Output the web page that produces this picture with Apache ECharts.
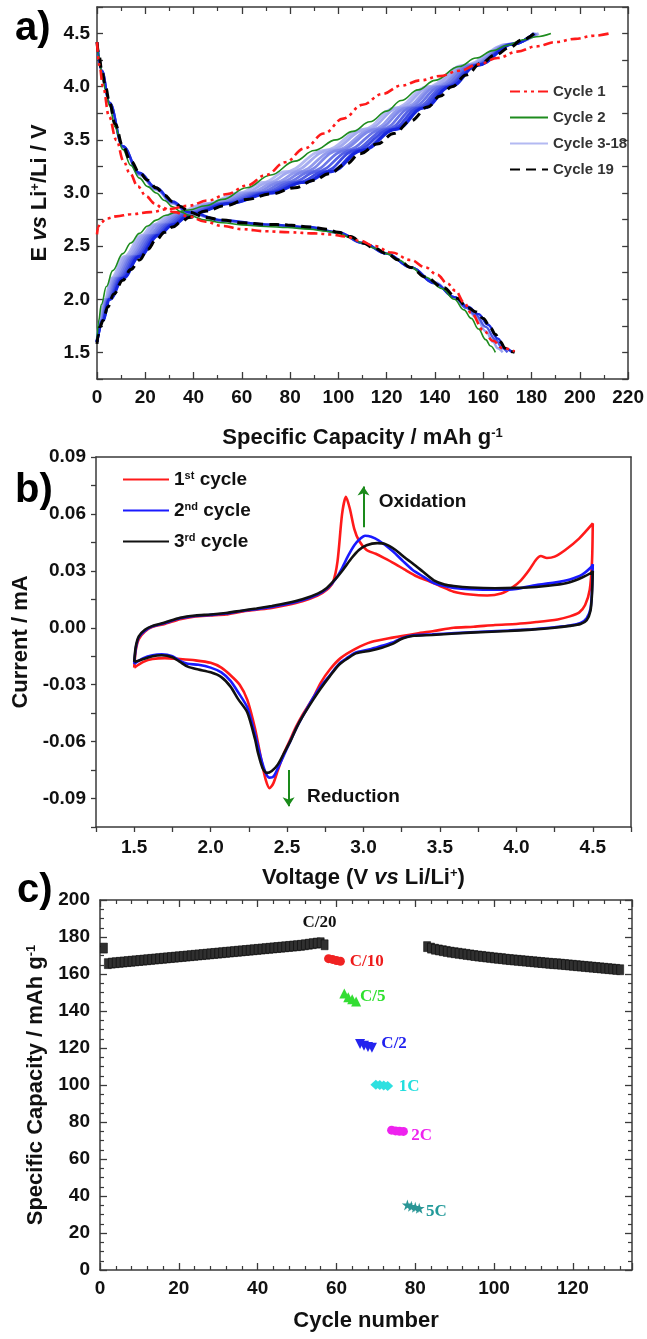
<!DOCTYPE html>
<html><head><meta charset="utf-8">
<script src="https://cdn.jsdelivr.net/npm/echarts@6/dist/echarts.min.js"></script>
<style>html,body{margin:0;padding:0;background:#fff}#c{width:647px;height:1339px}</style>
</head><body><div id="c"></div>
<script>
const SANS = '"Liberation Sans", Arial, Helvetica, sans-serif';
const SERIF = '"Liberation Serif", "Times New Roman", serif';

// ---------- Panel a : voltage profiles (capacity, voltage) ----------
const cycle1Charge = [[0,2.61],[0.5,2.68],[1.5,2.72],[4,2.76],[8,2.78],[14,2.8],[22,2.82],[30,2.85],[38,2.88],[46,2.93],[54,2.99],[62,3.07],[70,3.17],[78,3.29],[86,3.42],[94,3.56],[102,3.7],[110,3.83],[118,3.93],[126,4.01],[134,4.06],[142,4.1],[150,4.15],[158,4.21],[166,4.27],[174,4.33],[182,4.38],[190,4.42],[198,4.45],[206,4.48],[212,4.5]];
const cycle1Discharge = [[0,4.42],[1,4.2],[2.5,4.0],[5,3.72],[8,3.5],[11,3.3],[13.5,3.19],[17,3.06],[20.3,2.97],[24,2.9],[27,2.86],[32,2.82],[38,2.78],[45,2.73],[52,2.69],[60,2.66],[70,2.64],[80,2.63],[90,2.62],[97,2.61],[103,2.59],[109,2.55],[115,2.5],[122,2.44],[130,2.37],[136,2.3],[141,2.23],[145,2.15],[148.5,2.08],[152,1.97],[155,1.87],[160,1.71],[164,1.61],[168,1.54],[173,1.51]];
const cycle2Charge = [[0,1.62],[0.7,1.8],[1.8,1.95],[3.9,2.12],[6.5,2.27],[10.7,2.43],[14,2.53],[17.6,2.62],[21,2.69],[24.5,2.745],[28.5,2.79],[32.7,2.82],[38,2.84],[45,2.88],[52,2.94],[62,3.05],[72,3.17],[82,3.3],[90,3.4],[99,3.5],[106,3.58],[113,3.67],[120,3.77],[126,3.87],[133,3.97],[140,4.06],[150,4.19],[157,4.27],[164,4.34],[170,4.39],[176,4.44],[182,4.47],[188,4.5]];
const cycle2Discharge = [[0,4.42],[0.8,4.29],[2,4.13],[3.5,3.97],[5.2,3.82],[7.5,3.62],[10.7,3.41],[14,3.26],[17.6,3.14],[21,3.06],[24.5,3.0],[28,2.93],[31.3,2.87],[35,2.82],[38,2.79],[45,2.745],[52,2.72],[60,2.7],[70,2.685],[79,2.675],[88,2.66],[95,2.64],[100,2.62],[105,2.58],[110,2.53],[115,2.48],[120,2.43],[125,2.37],[130,2.3],[136,2.21],[143,2.1],[148,2.0],[152,1.9],[155,1.82],[158,1.72],[161,1.62],[163,1.56],[165,1.5]];
const cycle19Charge = [[0,1.58],[0.5,1.66],[1.2,1.74],[2.5,1.8],[4.5,1.93],[7,2.05],[10.7,2.18],[14,2.28],[17.6,2.37],[21,2.47],[24.5,2.56],[28,2.63],[31.3,2.68],[35,2.73],[38,2.77],[45,2.83],[53,2.88],[62,2.94],[72,2.99],[82,3.05],[90,3.12],[96,3.18],[103,3.27],[109,3.37],[116,3.46],[123,3.56],[130,3.68],[137,3.81],[142,3.91],[147,4.0],[153,4.11],[159,4.22],[165,4.3],[171,4.37],[176,4.44],[181,4.5]];
const cycle19Discharge = [[0,4.42],[0.8,4.3],[2,4.15],[3.5,4.0],[5.2,3.85],[7.5,3.65],[10.7,3.44],[14,3.3],[17.6,3.19],[21,3.12],[24.5,3.05],[28,2.98],[31.3,2.92],[35,2.87],[38,2.82],[45,2.77],[52,2.745],[60,2.72],[70,2.705],[79,2.7],[88,2.68],[95,2.66],[100,2.63],[105,2.59],[110,2.53],[115,2.48],[120,2.43],[125,2.37],[130,2.3],[136,2.21],[143.5,2.11],[149,2.01],[153.6,1.92],[157,1.88],[160,1.82],[163,1.73],[165,1.67],[167,1.6],[169,1.54],[171,1.51],[173,1.5]];
// cycles 3-18 (representative cycles), charge: capacity at each voltage level
const bandChargeV = [1.6,1.8,2.0,2.2,2.4,2.6,2.7,2.8,2.9,3.0,3.1,3.2,3.4,3.6,3.8,4.0,4.2,4.4,4.5];
const bandChargeCycles = [3,5,7,9,11,13,15,17,18];
const bandChargeCaps = [
  [0,1.0,3.2,6,11.2,18.5,23,31,45.5,59,69,78,94,110.5,123.5,137,151.5,170.5,183],
  [0,1.2,3.5,6.6,12,19.5,24,32.3,46.8,61,71.3,80.5,96,112,125,138.3,152.5,170.8,182.7],
  [0,1.4,3.8,7.3,13,20.5,25,33.5,48.2,63,74,83.5,98.5,114.5,127,140,153.6,171.2,182.3],
  [0,1.6,4.1,8,14,21.5,26.5,34.5,49.5,65,76,86,100,116,128.5,141,154.5,171.5,182],
  [0,1.8,4.4,8.7,14.8,22.5,27.8,35.5,50.8,66.8,78.5,88.5,103,118.3,130.2,142.5,155.3,171.8,181.7],
  [0,2.0,4.7,9.4,15.7,23.5,29,36.5,52.2,68.5,81,91,105.5,120.3,132,144,156.2,172,181.4],
  [0,2.2,5,10,16.5,24.3,30.2,37.5,53.5,70,83.5,94,107,122,133.5,145,156.5,172,181],
  [0,2.35,5.2,10.7,17.2,25.1,31.1,38.5,54.6,71.4,85.3,96.2,109.2,123.4,134.9,146.1,157.2,172.3,181],
  [0,2.4,5.3,11,17.5,25.5,31.5,39,55,72,86,97,110,124,135.5,146.5,157.5,172.5,181]
];
const bandChargeColors = ['#b3b9f2','#a3aaf0','#939bed','#7f89ea','#6a76e7','#5461e5','#3d4be3','#2635e0','#1626dd'];
const bandDischarge = {
  3: [[0,4.42],[2,4.14],[5.2,3.84],[10.7,3.43],[17.6,3.17],[24.5,3.03],[31.3,2.9],[38,2.81],[52,2.735],[70,2.695],[88,2.67],[100,2.625],[110,2.53],[120,2.43],[130,2.3],[140,2.16],[148,2.02],[153,1.92],[157,1.83],[161,1.7],[164,1.6],[166,1.54],[168,1.5]],
  10: [[0,4.42],[2,4.15],[5.2,3.85],[10.7,3.44],[17.6,3.18],[24.5,3.04],[31.3,2.91],[38,2.815],[52,2.74],[70,2.7],[88,2.675],[100,2.628],[110,2.53],[120,2.43],[130,2.3],[140,2.15],[148,2.02],[153,1.92],[157,1.85],[161,1.74],[165,1.62],[168,1.54],[170,1.5]],
  18: [[0,4.42],[2,4.15],[5.2,3.85],[10.7,3.44],[17.6,3.19],[24.5,3.05],[31.3,2.92],[38,2.82],[52,2.745],[70,2.705],[88,2.68],[100,2.63],[110,2.53],[120,2.43],[130,2.3],[140,2.15],[148,2.02],[153.6,1.93],[158,1.86],[162,1.76],[166,1.63],[169,1.54],[172,1.5]]
};
const bandDischargeColors = {3:'#9aa2ee', 10:'#4c58e4', 18:'#1a2ae0'};

// ---------- Panel b : cyclic voltammetry (voltage, current) ----------
const cv1 = [[1.5,-0.021],[1.51,-0.012],[1.53,-0.006],[1.57,-0.002],[1.62,0.0005],[1.7,0.002],[1.8,0.0045],[1.9,0.006],[2.0,0.0065],[2.1,0.007],[2.2,0.0085],[2.3,0.0095],[2.4,0.0105],[2.5,0.012],[2.6,0.014],[2.7,0.017],[2.76,0.02],[2.8,0.024],[2.83,0.035],[2.86,0.06],[2.885,0.069],[2.91,0.063],[2.94,0.052],[2.97,0.046],[3.02,0.041],[3.08,0.039],[3.13,0.037],[3.2,0.034],[3.27,0.0306],[3.35,0.027],[3.43,0.0245],[3.5,0.022],[3.59,0.019],[3.7,0.0175],[3.81,0.017],[3.9,0.018],[3.97,0.021],[4.03,0.025],[4.08,0.03],[4.13,0.036],[4.16,0.0378],[4.2,0.0368],[4.25,0.0375],[4.32,0.041],[4.41,0.047],[4.5,0.055],
  [4.495,0.035],[4.48,0.02],[4.45,0.012],[4.41,0.008],[4.35,0.006],[4.27,0.0044],[4.13,0.003],[4.0,0.002],[3.86,0.0015],[3.72,0.0005],[3.59,0.0],[3.46,-0.0017],[3.35,-0.003],[3.19,-0.0052],[3.05,-0.0075],[2.95,-0.011],[2.85,-0.016],[2.78,-0.022],[2.72,-0.029],[2.67,-0.037],[2.6,-0.046],[2.56,-0.052],[2.52,-0.059],[2.48,-0.066],[2.44,-0.075],[2.41,-0.082],[2.386,-0.0845],[2.36,-0.08],[2.33,-0.069],[2.29,-0.053],[2.24,-0.038],[2.19,-0.03],[2.13,-0.025],[2.07,-0.021],[2.0,-0.0185],[1.9,-0.0172],[1.8,-0.0165],[1.7,-0.016],[1.62,-0.0165],[1.56,-0.018],[1.5,-0.021]];
const cv2 = [[1.5,-0.019],[1.51,-0.011],[1.53,-0.005],[1.57,-0.0015],[1.62,0.0008],[1.7,0.0025],[1.8,0.005],[1.9,0.0062],[2.0,0.0068],[2.1,0.0075],[2.2,0.0088],[2.3,0.0098],[2.4,0.011],[2.5,0.0125],[2.6,0.0145],[2.7,0.0175],[2.76,0.0205],[2.82,0.026],[2.86,0.0315],[2.9,0.038],[2.94,0.0435],[2.98,0.047],[3.01,0.0485],[3.05,0.048],[3.1,0.046],[3.19,0.0405],[3.26,0.035],[3.32,0.0306],[3.39,0.027],[3.46,0.0236],[3.53,0.022],[3.59,0.021],[3.7,0.0203],[3.86,0.02],[4.0,0.0205],[4.13,0.0225],[4.25,0.0238],[4.35,0.0255],[4.43,0.028],[4.49,0.032],[4.5,0.0335],
  [4.495,0.02],[4.485,0.01],[4.46,0.005],[4.42,0.0025],[4.35,0.0012],[4.25,0.0003],[4.1,-0.0008],[3.95,-0.0014],[3.8,-0.002],[3.6,-0.0028],[3.45,-0.0035],[3.33,-0.004],[3.25,-0.0055],[3.2,-0.0075],[3.12,-0.0095],[3.05,-0.0112],[2.95,-0.013],[2.9,-0.0155],[2.84,-0.019],[2.78,-0.025],[2.72,-0.031],[2.67,-0.037],[2.6,-0.047],[2.56,-0.053],[2.52,-0.06],[2.48,-0.067],[2.44,-0.074],[2.41,-0.0785],[2.386,-0.079],[2.36,-0.0765],[2.33,-0.069],[2.29,-0.056],[2.24,-0.042],[2.18,-0.034],[2.13,-0.028],[2.07,-0.0235],[2.0,-0.021],[1.92,-0.0195],[1.85,-0.019],[1.8,-0.0175],[1.75,-0.015],[1.68,-0.014],[1.62,-0.0145],[1.56,-0.016],[1.5,-0.019]];
const cv3 = [[1.5,-0.018],[1.51,-0.01],[1.53,-0.0045],[1.57,-0.001],[1.62,0.001],[1.7,0.0028],[1.8,0.0053],[1.9,0.0065],[2.0,0.007],[2.1,0.0078],[2.2,0.009],[2.3,0.0102],[2.4,0.0115],[2.5,0.013],[2.6,0.015],[2.7,0.018],[2.76,0.021],[2.82,0.026],[2.87,0.031],[2.92,0.0365],[2.97,0.041],[3.02,0.0435],[3.09,0.0446],[3.14,0.0442],[3.21,0.041],[3.27,0.037],[3.32,0.034],[3.39,0.0295],[3.46,0.025],[3.53,0.0228],[3.59,0.022],[3.7,0.0212],[3.86,0.0208],[4.0,0.021],[4.13,0.0215],[4.25,0.0225],[4.35,0.024],[4.43,0.0265],[4.49,0.029],[4.5,0.03],
  [4.495,0.018],[4.485,0.009],[4.46,0.004],[4.42,0.002],[4.35,0.001],[4.25,0.0],[4.1,-0.001],[3.95,-0.0017],[3.8,-0.0022],[3.6,-0.003],[3.45,-0.0038],[3.33,-0.0042],[3.28,-0.005],[3.24,-0.0062],[3.19,-0.0085],[3.12,-0.0105],[3.05,-0.012],[2.95,-0.0135],[2.9,-0.016],[2.84,-0.0195],[2.78,-0.0255],[2.72,-0.032],[2.67,-0.038],[2.6,-0.047],[2.56,-0.053],[2.52,-0.06],[2.48,-0.066],[2.44,-0.072],[2.4,-0.0755],[2.367,-0.0765],[2.34,-0.074],[2.31,-0.066],[2.29,-0.0586],[2.24,-0.0446],[2.18,-0.0376],[2.13,-0.031],[2.07,-0.026],[2.0,-0.0235],[1.92,-0.022],[1.85,-0.0205],[1.8,-0.018],[1.75,-0.0155],[1.68,-0.0145],[1.62,-0.015],[1.56,-0.0165],[1.5,-0.018]];
const cvArrows = [ [[3.0,0.053],[3.0,0.0745]], [[2.51,-0.075],[2.51,-0.094]] ];
const cvNotes = [ {name:'Oxidation', value:[3.1,0.0665]}, {name:'Reduction', value:[2.63,-0.0893]} ];

// ---------- Panel c : rate capability (cycle, capacity) ----------
const c20FirstStart = 1;
const c20FirstVals = [174.0,165.6,165.9,166.1,166.3,166.5,166.7,166.9,167.1,167.3,167.5,167.7,167.9,168.1,168.3,168.5,168.7,168.9,169.1,169.3,169.5,169.7,169.9,170.1,170.3,170.5,170.7,170.9,171.1,171.3,171.5,171.7,171.9,172.1,172.3,172.5,172.7,172.9,173.1,173.3,173.5,173.7,173.9,174.1,174.3,174.5,174.7,174.9,175.1,175.3,175.5,175.8,176.1,176.4,176.7,176.9,175.8];
const c10Start = 58, c10Vals = [168.3,167.9,167.3,166.9];
const c5Start = 62, c5Vals = [149.5,147.5,146.3,145.2];
const c2Start = 66, c2Vals = [122.2,121.2,120.6,120.2];
const r1CStart = 70, r1CVals = [100.2,100.0,99.7,99.4];
const r2CStart = 74, r2CVals = [75.6,75.2,75.0,74.9];
const r5CStart = 78, r5CVals = [35.2,34.4,33.9,33.4];
const c20SecondStart = 83;
const c20SecondVals = [174.8,174.0,173.4,173.0,172.6,172.2,171.8,171.5,171.2,170.9,170.6,170.3,170.0,169.7,169.5,169.2,169.0,168.7,168.5,168.3,168.0,167.8,167.6,167.4,167.2,167.0,166.8,166.6,166.4,166.2,166.0,165.8,165.6,165.5,165.3,165.1,164.9,164.7,164.5,164.3,164.1,163.9,163.7,163.5,163.3,163.1,162.9,162.7,162.5,162.3];
// label anchors (left edge of each rate label)
const rateNotes = [
  {name:'C/20', value:[51.4,188.0], color:'#111111'},
  {name:'C/10', value:[63.4,166.7], color:'#ee1c1c'},
  {name:'C/5',  value:[66.0,147.8], color:'#2ee02e'},
  {name:'C/2',  value:[71.4,122.2], color:'#2020ee'},
  {name:'1C',   value:[75.8,99.4],  color:'#22dede'},
  {name:'2C',   value:[79.0,72.6],  color:'#ee22ee'},
  {name:'5C',   value:[82.7,31.5],  color:'#229a9a'}
];

// ---------- helpers ----------
const AXC = '#3a3a3a';
const tickLbl = {color:'#111', fontFamily:SANS, fontWeight:'bold', fontSize:19};
const richName = {
  b:{fontFamily:SANS, fontWeight:'bold', fontSize:22, color:'#111'},
  i:{fontFamily:SANS, fontWeight:'bold', fontStyle:'italic', fontSize:22, color:'#111'},
  s:{fontFamily:SANS, fontWeight:'bold', fontSize:13, color:'#111', verticalAlign:'top'}
};
function withStart(start, vals){ return vals.map((v,i)=>[start+i, v]); }
function axis(o){
  return Object.assign({
    type:'value', scale:false,
    axisLine:{show:true, onZero:false, lineStyle:{color:AXC, width:1.5}},
    splitLine:{show:false},
    axisTick:{show:true, inside:o.inside, length:o.tickLen||7, lineStyle:{color:AXC, width:1.3}},
    minorTick:{show:!!o.minor, splitNumber:o.minor||2, length:4, lineStyle:{color:AXC, width:1.2}},
    axisLabel:o.label ? Object.assign({show:true}, tickLbl, o.label) : {show:false}
  }, o.rest);
}
const half = v => { const k=Math.round(v*2); return Math.abs(v*2-k)<1e-6 ? (k/2).toFixed(1) : ''; };
const cvFmt = v => { const k=Math.round(v/0.03); return Math.abs(v-k*0.03)<1e-6 ? (k*0.03).toFixed(2) : ''; };
const noteLabel = {show:true, position:'right', distance:0, formatter:'{b}', textBorderWidth:0, opacity:1};

const series = [];
// panel a
bandChargeCycles.forEach((cyc, j) => {
  series.push({type:'line', name:'Cycle 3-18', xAxisIndex:0, yAxisIndex:0, symbol:'none', smooth:0.4, smoothMonotone:'x',
    data: bandChargeCaps[j].map((c,i)=>[c, bandChargeV[i]]),
    color: bandChargeColors[j], lineStyle:{width:2.8, color:bandChargeColors[j]}, z:2});
});
Object.keys(bandDischarge).forEach(cyc => {
  series.push({type:'line', name:'Cycle 3-18', xAxisIndex:0, yAxisIndex:0, symbol:'none', smooth:0.4, smoothMonotone:'x',
    data: bandDischarge[cyc], color: bandDischargeColors[cyc], lineStyle:{width:2.4, color:bandDischargeColors[cyc]}, z:2});
});
[cycle2Charge, cycle2Discharge].forEach(d => series.push({type:'line', name:'Cycle 2', xAxisIndex:0, yAxisIndex:0, symbol:'none', smooth:0.4, smoothMonotone:'x', data:d, color:'#1e8c1e', lineStyle:{width:1.6, color:'#1e8c1e'}, z:3}));
[cycle19Charge, cycle19Discharge].forEach(d => series.push({type:'line', name:'Cycle 19', xAxisIndex:0, yAxisIndex:0, symbol:'none', smooth:0.4, smoothMonotone:'x', data:d, color:'#000', lineStyle:{width:3, color:'#000', type:[10,6]}, z:4}));
[cycle1Charge, cycle1Discharge].forEach(d => series.push({type:'line', name:'Cycle 1', xAxisIndex:0, yAxisIndex:0, symbol:'none', smooth:0.4, smoothMonotone:'x', data:d, color:'#ff1a1a', lineStyle:{width:2.6, color:'#ff1a1a', type:[10,4,3,4,3,4]}, z:5}));
// panel b
[['1st cycle', cv1, '#ff1a1a'], ['2nd cycle', cv2, '#1a1aff'], ['3rd cycle', cv3, '#111111']].forEach(([n,d,c]) =>
  series.push({type:'line', name:n, xAxisIndex:2, yAxisIndex:2, symbol:'none', smooth:0.25, data:d, color:c, lineStyle:{width:2.6, color:c}}));
series.push({type:'lines', coordinateSystem:'cartesian2d', xAxisIndex:2, yAxisIndex:2, symbol:['none','arrow'], symbolSize:9,
  lineStyle:{color:'#1a8a1a', width:2, opacity:1}, data: cvArrows.map(c=>({coords:c}))});
series.push({type:'scatter', xAxisIndex:2, yAxisIndex:2, symbolSize:0, itemStyle:{color:'#111', opacity:1}, data:cvNotes,
  label:Object.assign({}, noteLabel, {fontFamily:SANS, fontWeight:'bold', fontSize:19, color:'#111'})});
// panel c
const full = {opacity:1};
const sq = {type:'scatter', xAxisIndex:4, yAxisIndex:4, symbol:'rect', symbolSize:[7,10], itemStyle:{color:'#303030', borderColor:'#000', borderWidth:0.5, opacity:1}};
series.push(Object.assign({}, sq, {data: withStart(c20FirstStart, c20FirstVals)}));
series.push(Object.assign({}, sq, {data: withStart(c20SecondStart, c20SecondVals)}));
series.push({type:'scatter', xAxisIndex:4, yAxisIndex:4, symbol:'circle', symbolSize:9, itemStyle:Object.assign({color:'#f02222'}, full), data: withStart(c10Start, c10Vals)});
series.push({type:'scatter', xAxisIndex:4, yAxisIndex:4, symbol:'triangle', symbolSize:10, itemStyle:Object.assign({color:'#33dd33'}, full), data: withStart(c5Start, c5Vals)});
series.push({type:'scatter', xAxisIndex:4, yAxisIndex:4, symbol:'triangle', symbolRotate:180, symbolSize:10, itemStyle:Object.assign({color:'#2424ee'}, full), data: withStart(c2Start, c2Vals)});
series.push({type:'scatter', xAxisIndex:4, yAxisIndex:4, symbol:'diamond', symbolSize:[11,10], itemStyle:Object.assign({color:'#2ee0e0'}, full), data: withStart(r1CStart, r1CVals)});
series.push({type:'scatter', xAxisIndex:4, yAxisIndex:4, symbol:'circle', symbolSize:9, itemStyle:Object.assign({color:'#ee22ee'}, full), data: withStart(r2CStart, r2CVals)});
series.push({type:'scatter', xAxisIndex:4, yAxisIndex:4, symbol:'path://M50,0 L61,35 L98,35 L68,57 L79,91 L50,70 L21,91 L32,57 L2,35 L39,35 Z', symbolSize:11, itemStyle:Object.assign({color:'#2a9696'}, full), data: withStart(r5CStart, r5CVals)});
series.push({type:'scatter', xAxisIndex:4, yAxisIndex:4, symbolSize:0, itemStyle:{color:'#111', opacity:1},
  data: rateNotes.map(r=>({name:r.name, value:r.value, label:{color:r.color}})),
  label:Object.assign({}, noteLabel, {fontFamily:SERIF, fontWeight:'bold', fontSize:17})});

const option = {
  animation:false, backgroundColor:'#fff',
  grid:[
    {left:97, top:7, width:534, height:372},
    {left:96, top:457, width:535, height:370},
    {left:100, top:900, width:532, height:370}
  ],
  xAxis:[
    axis({inside:true, minor:2, label:{margin:9}, rest:{gridIndex:0, position:'bottom', min:0, max:220, interval:20,
      name:'{b|Specific Capacity / mAh g}{s|-1}', nameLocation:'middle', nameGap:48, nameTextStyle:{rich:richName}}}),
    axis({inside:true, minor:2, rest:{gridIndex:0, position:'top', min:0, max:220, interval:20}}),
    axis({inside:false, tickLen:5, label:{margin:11, formatter:half}, rest:{gridIndex:1, position:'bottom', min:1.25, max:4.75, interval:0.25,
      name:'{b|Voltage (V }{i|vs}{b| Li/Li}{s|+}{b|)}', nameLocation:'middle', nameGap:40, nameTextStyle:{rich:richName}}}),
    Object.assign(axis({inside:false, rest:{gridIndex:1, position:'top', min:1.25, max:4.75, interval:0.25}}), {axisTick:{show:false}}),
    axis({inside:true, minor:5, label:{margin:9, showMaxLabel:false}, rest:{gridIndex:2, position:'bottom', min:0, max:135, interval:20,
      name:'{b|Cycle number}', nameLocation:'middle', nameGap:40, nameTextStyle:{rich:richName}}}),
    axis({inside:true, minor:5, rest:{gridIndex:2, position:'top', min:0, max:135, interval:20}})
  ],
  yAxis:[
    axis({inside:true, tickLen:6, label:{margin:7, formatter:half}, rest:{gridIndex:0, position:'left', min:1.25, max:4.75, interval:0.25,
      name:'{b|E }{i|vs}{b| Li}{s|+}{b|/Li / V}', nameLocation:'middle', nameGap:46, nameTextStyle:{rich:richName}}}),
    axis({inside:true, tickLen:6, rest:{gridIndex:0, position:'right', min:1.25, max:4.75, interval:0.25}}),
    axis({inside:false, tickLen:5, label:{margin:10, formatter:cvFmt}, rest:{gridIndex:1, position:'left', min:-0.105, max:0.09, interval:0.015,
      name:'{b|Current / mA}', nameLocation:'middle', nameGap:62, nameTextStyle:{rich:richName}}}),
    Object.assign(axis({inside:false, rest:{gridIndex:1, position:'right', min:-0.105, max:0.09, interval:0.015}}), {axisTick:{show:false}}),
    axis({inside:true, minor:4, label:{margin:10}, rest:{gridIndex:2, position:'left', min:0, max:200, interval:20,
      name:'{b|Specific Capacity / mAh g}{s|-1}', nameLocation:'middle', nameGap:52, nameTextStyle:{rich:richName}}}),
    axis({inside:true, minor:4, rest:{gridIndex:2, position:'right', min:0, max:200, interval:20}})
  ],
  legend:[
    {data:['Cycle 1','Cycle 2','Cycle 3-18','Cycle 19'], orient:'vertical', left:509, top:84, padding:0,
      itemWidth:38, itemHeight:10, itemGap:11, itemStyle:{opacity:0},
      textStyle:{fontFamily:SANS, fontWeight:'bold', fontSize:15, color:'#333'}},
    {data:['1st cycle','2nd cycle','3rd cycle'], orient:'vertical', left:122, top:470, padding:0,
      itemWidth:46, itemHeight:16, itemGap:12, itemStyle:{opacity:0},
      formatter: n => '{n|' + n.charAt(0) + '}{s|' + n.slice(1,3) + '}{n|' + n.slice(3) + '}',
      textStyle:{rich:{n:{fontFamily:SANS, fontWeight:'bold', fontSize:19, color:'#111'}, s:{fontFamily:SANS, fontWeight:'bold', fontSize:11, color:'#111', verticalAlign:'top'}}}}
  ],
  graphic:[
    {type:'text', x:15, y:29, style:{text:'a)', font:'bold 40px ' + SANS, fill:'#000', verticalAlign:'middle'}},
    {type:'text', x:15, y:491, style:{text:'b)', font:'bold 40px ' + SANS, fill:'#000', verticalAlign:'middle'}},
    {type:'text', x:17, y:891, style:{text:'c)', font:'bold 40px ' + SANS, fill:'#000', verticalAlign:'middle'}}
  ],
  series: series
};
const chart = echarts.init(document.getElementById('c'), null, {renderer:'canvas'});
chart.setOption(option);
</script></body></html>
